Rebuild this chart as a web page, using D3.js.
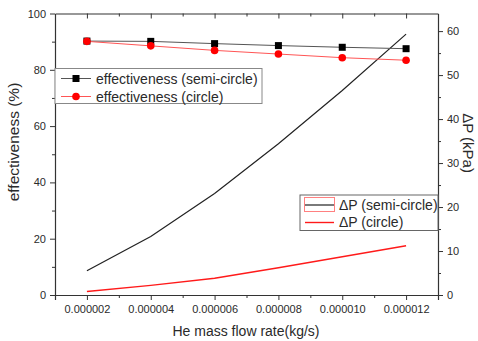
<!DOCTYPE html>
<html><head><meta charset="utf-8">
<script src="https://cdn.jsdelivr.net/npm/d3@7"></script>
<style>
body{margin:0;background:#fff;}
svg{display:block;font-family:"Liberation Sans",Arial,sans-serif;}
</style></head>
<body><svg id="c" width="478" height="341"></svg>
<script>
const flowRates = [2e-6, 4e-6, 6e-6, 8e-6, 10e-6, 12e-6];
const effSemi = [90.2, 90.1, 89.3, 88.6, 88.0, 87.5];
const effCircle = [90.1, 88.5, 86.9, 85.6, 84.3, 83.4];
const dpSemi = [5.5, 13.3, 23.1, 34.4, 46.5, 59.3];
const dpCircle = [0.8, 2.2, 3.8, 6.2, 8.7, 11.2];
const xTicks = [2e-6, 4e-6, 6e-6, 8e-6, 10e-6, 12e-6];
const xMinor = [3e-6, 5e-6, 7e-6, 9e-6, 11e-6];
const yLeftTicks = [0, 20, 40, 60, 80, 100];
const yLeftMinor = [10, 30, 50, 70, 90];
const yRightTicks = [0, 10, 20, 30, 40, 50, 60];
const yRightMinor = [5, 15, 25, 35, 45, 55];

const svg = d3.select("#c");
const L = 55, R = 438, T = 13.5, B = 295;
const x = d3.scaleLinear().domain([1e-6, 13e-6]).range([L, R]);
const yL = d3.scaleLinear().domain([0, 100]).range([B, T]);
const yR = d3.scaleLinear().domain([0, 64]).range([B, T]);
const axisColor = "#333";
const fmt = d => d.toFixed(6);

function styleAxis(g){
  g.selectAll("path.domain").attr("stroke", axisColor).attr("stroke-width", 1.2);
  g.selectAll("line").attr("stroke", axisColor).attr("stroke-width", 1);
  g.selectAll("text").attr("fill", "#2a2a2a").style("font-size", "11px");
}
// bottom axis
svg.append("g").attr("transform", `translate(0,${B})`)
  .call(d3.axisBottom(x).tickValues(xTicks).tickFormat(fmt).tickSize(5).tickPadding(5)).call(styleAxis);
svg.append("g").attr("transform", `translate(0,${B})`)
  .call(d3.axisBottom(x).tickValues(xMinor).tickFormat("").tickSize(3))
  .call(g => g.select(".domain").remove()).call(styleAxis);
// top axis
svg.append("g").attr("transform", `translate(0,${T})`)
  .call(d3.axisBottom(x).tickValues(xTicks).tickFormat("").tickSize(5).tickSizeOuter(0)).call(styleAxis);
svg.append("g").attr("transform", `translate(0,${T})`)
  .call(d3.axisBottom(x).tickValues(xMinor).tickFormat("").tickSize(3))
  .call(g => g.select(".domain").remove()).call(styleAxis);
// left axis
svg.append("g").attr("transform", `translate(${L},0)`)
  .call(d3.axisLeft(yL).tickValues(yLeftTicks).tickSize(5).tickPadding(4).tickSizeOuter(0)).call(styleAxis);
svg.append("g").attr("transform", `translate(${L},0)`)
  .call(d3.axisLeft(yL).tickValues(yLeftMinor).tickFormat("").tickSize(3))
  .call(g => g.select(".domain").remove()).call(styleAxis);
// right axis
svg.append("g").attr("transform", `translate(${R},0)`)
  .call(d3.axisRight(yR).tickValues(yRightTicks).tickSize(5).tickPadding(4).tickSizeOuter(0)).call(styleAxis);
svg.append("g").attr("transform", `translate(${R},0)`)
  .call(d3.axisRight(yR).tickValues(yRightMinor).tickFormat("").tickSize(3))
  .call(g => g.select(".domain").remove()).call(styleAxis);

// axis titles
svg.append("text").attr("x", 246).attr("y", 336).attr("text-anchor", "middle")
  .style("font-size", "14px").attr("fill", "#2a2a2a").text("He mass flow rate(kg/s)");
svg.append("text").attr("transform", "translate(19,142) rotate(-90)").attr("text-anchor", "middle")
  .style("font-size", "15.5px").attr("fill", "#2a2a2a").text("effectiveness (%)");
svg.append("text").attr("transform", "translate(463,143) rotate(90)").attr("text-anchor", "middle")
  .style("font-size", "15px").attr("fill", "#2a2a2a").text("ΔP (kPa)");

// data lines
const lineL = d3.line().x((d,i) => x(flowRates[i])).y(d => yL(d));
const lineR = d3.line().x((d,i) => x(flowRates[i])).y(d => yR(d));
svg.append("path").attr("d", lineR(dpSemi)).attr("fill", "none").attr("stroke", "#222").attr("stroke-width", 1.2);
svg.append("path").attr("d", lineR(dpCircle)).attr("fill", "none").attr("stroke", "#ff1a1a").attr("stroke-width", 1.4);
svg.append("path").attr("d", lineL(effSemi)).attr("fill", "none").attr("stroke", "#555").attr("stroke-width", 1);
svg.append("path").attr("d", lineL(effCircle)).attr("fill", "none").attr("stroke", "#ff5555").attr("stroke-width", 1);
svg.selectAll("rect.m").data(effSemi).enter().append("rect")
  .attr("x", (d,i) => x(flowRates[i]) - 3.5).attr("y", d => yL(d) - 3.5)
  .attr("width", 7).attr("height", 7).attr("fill", "#000");
svg.selectAll("circle.m").data(effCircle).enter().append("circle")
  .attr("cx", (d,i) => x(flowRates[i])).attr("cy", d => yL(d)).attr("r", 3.8).attr("fill", "#ff0000");

// legend 1
const lg1 = svg.append("g");
lg1.append("rect").attr("x", L).attr("y", 68.5).attr("width", 207).attr("height", 35)
  .attr("fill", "#fff").attr("stroke", "#888").attr("stroke-width", 1);
lg1.append("line").attr("x1", 61).attr("x2", 91).attr("y1", 78.5).attr("y2", 78.5).attr("stroke", "#555");
lg1.append("rect").attr("x", 72.5).attr("y", 75).attr("width", 7).attr("height", 7).attr("fill", "#000");
lg1.append("text").attr("x", 96).attr("y", 83.5).style("font-size", "14px").attr("fill", "#2a2a2a").text("effectiveness (semi-circle)");
lg1.append("line").attr("x1", 61).attr("x2", 91).attr("y1", 96.5).attr("y2", 96.5).attr("stroke", "#ff5555");
lg1.append("circle").attr("cx", 76).attr("cy", 96.5).attr("r", 3.8).attr("fill", "#ff0000");
lg1.append("text").attr("x", 96).attr("y", 101.5).style("font-size", "14px").attr("fill", "#2a2a2a").text("effectiveness (circle)");

// legend 2
const lg2 = svg.append("g");
lg2.append("rect").attr("x", 300).attr("y", 195).attr("width", R - 300).attr("height", 35.5)
  .attr("fill", "#fff").attr("stroke", "#666").attr("stroke-width", 1);
lg2.append("rect").attr("x", 304.5).attr("y", 197.5).attr("width", 30).attr("height", 14)
  .attr("fill", "none").attr("stroke", "#ff8080").attr("stroke-width", 1);
lg2.append("line").attr("x1", 305).attr("x2", 334).attr("y1", 205).attr("y2", 205).attr("stroke", "#222").attr("stroke-width", 1.2);
lg2.append("text").attr("x", 339).attr("y", 209.5).style("font-size", "14px").attr("fill", "#2a2a2a").text("ΔP (semi-circle)");
lg2.append("line").attr("x1", 305).attr("x2", 334).attr("y1", 222.5).attr("y2", 222.5).attr("stroke", "#ff1a1a").attr("stroke-width", 1.4);
lg2.append("text").attr("x", 339).attr("y", 227).style("font-size", "14px").attr("fill", "#2a2a2a").text("ΔP (circle)");
</script></body></html>
